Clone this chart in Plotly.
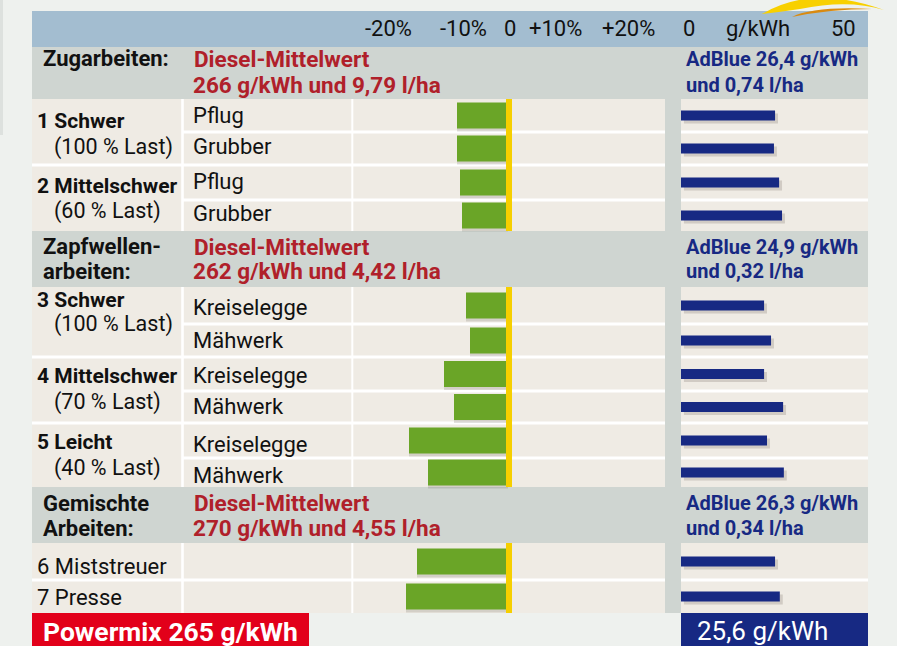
import plotly.graph_objects as go

W, H = 897, 646

# ------------------------------------------------------------------ data
section_titles = [["Zugarbeiten:"], ["Zapfwellen-", "arbeiten:"], ["Gemischte", "Arbeiten:"]]
diesel_mean_gkwh = ["266", "262", "270"]
diesel_mean_lha = ["9,79", "4,42", "4,55"]
adblue_mean_gkwh = ["26,4", "24,9", "26,3"]
adblue_mean_lha = ["0,74", "0,32", "0,34"]

groups = ["1 Schwer", "2 Mittelschwer", "3 Schwer", "4 Mittelschwer", "5 Leicht"]
group_loads = ["(100 % Last)", "(60 % Last)", "(100 % Last)", "(70 % Last)", "(40 % Last)"]
tasks = ["Pflug", "Grubber", "Pflug", "Grubber",
         "Kreiselegge", "Mähwerk", "Kreiselegge", "Mähwerk", "Kreiselegge", "Mähwerk",
         "6 Miststreuer", "7 Presse"]
diesel_diff_pct = [-10.2, -10.2, -9.6, -9.2, -8.4, -7.6, -12.8, -10.8, -19.8, -16.0, -18.2, -20.4]
adblue_gkwh = [25.7, 25.4, 26.8, 27.6, 22.7, 24.6, 22.7, 27.9, 23.5, 28.1, 25.7, 27.0]

pct_ticks = [-20, -10, 0, 10, 20]
pct_ticktext = ["-20%", "-10%", "0", "+10%", "+20%"]
adblue_ticks = [0, 21, 50]
adblue_ticktext = ["0", "g/kWh", "50"]

powermix_total = "265"
adblue_total = "25,6"

# ------------------------------------------------------------------ layout geometry (pixels)
FONT = "Roboto"
BG = "#eef1ee"
HEAD_BLUE = "#a3bdd0"
SEC_GRAY = "#cfd5d1"
BEIGE = "#efebe4"
GREEN = "#6aa527"
YELLOW = "#f6cf00"
NAVY = "#172983"
RED_TXT = "#b0202a"
RED_BOX = "#e2001a"

X_L, X_R = 32, 868
X_COL1, X_COL2 = 182.5, 352.3          # white vertical separators
X_PCT0, X_PCT1 = 353, 665              # percent panel
X_AB0, X_AB1 = 681, 868                # AdBlue panel
ZERO_PX = 508
PX_PER_PCT = 5.0
PX_PER_G = 3.66

section_bounds = [(47, 99), (231, 287), (487, 543)]
block_bounds = [(99, 231), (287, 487), (543, 613)]
row_bounds = [(99, 132), (132, 165), (165, 200), (200, 231),
              (287, 324), (324, 357), (357, 391), (391, 423), (423, 458), (458, 487),
              (543, 580), (580, 613)]
row_group = [0, 0, 1, 1, 2, 2, 3, 3, 4, 4, 5, 6]
task_text_y = [116, 147, 182, 213, 308, 340, 375, 406, 444, 475, 566, 597]
task_text_x = [191, 191, 191, 191, 191, 191, 191, 191, 191, 191, 35, 35]
group_text_y = [(121, 147), (186, 211), (300, 324), (376, 402), (442, 468)]
section_text_y = [(59, 85), (247, 271), (503, 528)]


def px(x):
    return x / W


def py(y):
    return 1 - y / H


shapes = []


def rect(x0, y0, x1, y1, color, layer="below"):
    shapes.append(dict(type="rect", xref="paper", yref="paper",
                       x0=px(x0), x1=px(x1), y0=py(y1), y1=py(y0),
                       fillcolor=color, line=dict(width=0), layer=layer))


# left edge strip
rect(0, 0, 3, 135, "#dde1de")
# header band
rect(X_L, 11, X_R, 47, HEAD_BLUE)
# section bands
for (a, b) in section_bounds:
    rect(X_L, a, X_R, b, SEC_GRAY)
# row blocks
for (a, b) in block_bounds:
    rect(X_L, a, X_R, b, BEIGE)
    rect(X_COL1 - 1.3, a, X_COL1 + 1.3, b, "white")
    rect(X_COL2 - 1.0, a, X_COL2 + 1.0, b, "white")
# separators between rows
for i in range(len(row_bounds) - 1):
    if row_bounds[i][1] != row_bounds[i + 1][0]:
        continue
    yb = row_bounds[i][1]
    x_start = X_COL1 if row_group[i] == row_group[i + 1] else X_L
    rect(x_start, yb - 1.5, X_R, yb + 1.5, "white")
# gray gap between panels
rect(X_PCT1, 47, X_AB0, 613, SEC_GRAY)
# yellow zero line
for (a, b) in block_bounds:
    rect(ZERO_PX - 2, a, ZERO_PX + 4, b, YELLOW, layer="above")
# footer boxes
rect(X_L, 613, 309, 646, RED_BOX)
rect(X_AB0, 613, X_R, 646, NAVY)


# swoosh decoration
def pth(points):
    s = ""
    for cmd, pts in points:
        s += cmd + " " + " ".join(f"{px(x):.5f},{py(y):.5f}" for x, y in pts) + " "
    return s + "Z"


shapes.append(dict(type="path", xref="paper", yref="paper",
                   path=pth([("M", [(762, 14)]), ("Q", [(812, -16), (884, 10)]),
                             ("Q", [(848, -1), (800, 9)]), ("Q", [(780, 12), (762, 14)])]),
                   fillcolor="#f8d000", line=dict(width=0), layer="above"))
shapes.append(dict(type="path", xref="paper", yref="paper",
                   path=pth([("M", [(792, 17)]), ("Q", [(814, 6), (872, 9)]),
                             ("Q", [(830, 9), (792, 17)])]),
                   fillcolor="#d98a10", line=dict(width=0), layer="above"))

# ------------------------------------------------------------------ traces
row_center = [(a + b) / 2 for a, b in row_bounds]

fig = go.Figure()
# shadows
fig.add_trace(go.Bar(x=diesel_diff_pct, y=[c + 3 for c in row_center], orientation="h",
                     width=26, marker=dict(color="rgba(70,60,50,0.16)", line=dict(width=0)),
                     xaxis="x", yaxis="y", hoverinfo="skip"))
fig.add_trace(go.Bar(x=adblue_gkwh, y=[c + 3 for c in row_center], orientation="h",
                     base=0.8, width=10,
                     marker=dict(color="rgba(70,60,50,0.18)", line=dict(width=0)),
                     xaxis="x2", yaxis="y", hoverinfo="skip"))
# main bars
fig.add_trace(go.Bar(x=diesel_diff_pct, y=row_center, orientation="h", width=26,
                     marker=dict(color=GREEN, line=dict(width=0)),
                     xaxis="x", yaxis="y", name="Diesel"))
fig.add_trace(go.Bar(x=adblue_gkwh, y=row_center, orientation="h", width=10,
                     marker=dict(color=NAVY, line=dict(width=0)),
                     xaxis="x2", yaxis="y", name="AdBlue"))

# ------------------------------------------------------------------ annotations
ann = []


def text(t, x, y, size=21.5, color="#111111", bold=False, anchor="left", xref="paper"):
    if bold:
        t = "<b>" + t + "</b>"
    ann.append(dict(text=t, x=px(x) if xref == "paper" else x, y=py(y),
                    xref=xref, yref="paper", xanchor=anchor, yanchor="middle",
                    showarrow=False, font=dict(family=FONT, size=size, color=color)))


# header ticks
HS = 22
pct_shift = [-20, 5, 2, -3, 20]
for v, t, s in zip(pct_ticks, pct_ticktext, pct_shift):
    text(t, v, 28, size=HS, anchor="center", xref="x")
    ann[-1]["xshift"] = s
text(adblue_ticktext[0], adblue_ticks[0], 28, size=HS, anchor="left", xref="x2")
ann[-1]["xshift"] = 0
text(adblue_ticktext[1], adblue_ticks[1], 28, size=HS, anchor="center", xref="x2")
text(adblue_ticktext[2], adblue_ticks[2], 28, size=HS, anchor="right", xref="x2")
ann[-1]["xshift"] = -6

# section headers
for i, lines in enumerate(section_titles):
    y1, y2 = section_text_y[i]
    for j, ln in enumerate(lines):
        text(ln, 41, (y1, y2)[j], size=22, bold=True)
    text("Diesel-Mittelwert", 192, y1, size=22.5, color=RED_TXT, bold=True)
    text(f"{diesel_mean_gkwh[i]} g/kWh und {diesel_mean_lha[i]} l/ha", 191, y2,
         size=22.5, color=RED_TXT, bold=True)
    text(f"AdBlue {adblue_mean_gkwh[i]} g/kWh", 684, y1, size=20, color=NAVY, bold=True)
    text(f"und {adblue_mean_lha[i]} l/ha", 684, y2, size=20, color=NAVY, bold=True)

# group labels
for g, l, (y1, y2) in zip(groups, group_loads, group_text_y):
    text(g, 35, y1, size=21, bold=True)
    text(l, 52, y2)

# task labels
for t, x, y in zip(tasks, task_text_x, task_text_y):
    text(t, x, y, size=22)

# footer
text(f"Powermix {powermix_total} g/kWh", 41, 631, size=26.5, color="white", bold=True)
text(f"{adblue_total} g/kWh", 695, 631, size=26, color="white")

fig.update_layout(
    width=W, height=H,
    margin=dict(l=0, r=0, t=0, b=0),
    paper_bgcolor=BG, plot_bgcolor="rgba(0,0,0,0)",
    barmode="overlay", showlegend=False,
    shapes=shapes, annotations=ann,
    xaxis=dict(domain=[px(X_PCT0), px(X_PCT1)],
               range=[-(ZERO_PX - X_PCT0) / PX_PER_PCT, (X_PCT1 - ZERO_PX) / PX_PER_PCT],
               visible=False, fixedrange=True),
    xaxis2=dict(domain=[px(X_AB0), px(X_AB1)],
                range=[0, (X_AB1 - X_AB0) / PX_PER_G],
                visible=False, fixedrange=True, anchor="y"),
    yaxis=dict(domain=[0, 1], range=[H, 0], visible=False, fixedrange=True),
)

fig.write_html("out.html", config={"displayModeBar": False},
               post_script="document.body.style.margin='0';"
                           "document.body.style.overflow='hidden';")
